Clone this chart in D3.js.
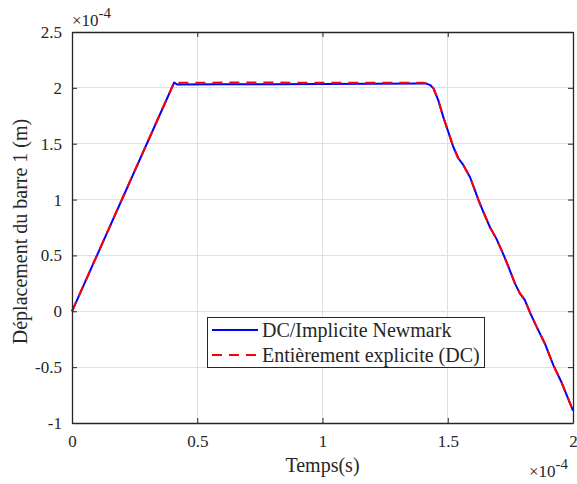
<!DOCTYPE html>
<html>
<head>
<meta charset="utf-8">
<script src="https://cdn.jsdelivr.net/npm/d3@7"></script>
<style>
  html, body { margin: 0; padding: 0; background: #ffffff; }
  svg { display: block; }
  text { font-family: "Liberation Serif", "Times New Roman", serif; fill: #262626; }
</style>
</head>
<body>
<svg id="chart" width="577" height="484"></svg>
<script>
// ---- data (time and displacement in units of 1e-4) ----
const time = [0, 0.408, 0.42, 0.6, 0.8, 1.0, 1.2, 1.4, 1.415, 1.43, 1.443, 1.462, 1.482, 1.502, 1.522, 1.542, 1.562, 1.589, 1.609, 1.622, 1.642, 1.669, 1.695, 1.722, 1.742, 1.768, 1.788, 1.808, 1.828, 1.855, 1.888, 1.921, 1.955, 2.0];
const implicitNewmark = [0, 2.048, 2.03, 2.032, 2.033, 2.035, 2.037, 2.04, 2.038, 2.025, 1.995, 1.89, 1.74, 1.607, 1.473, 1.37, 1.31, 1.2, 1.08, 1.0, 0.89, 0.75, 0.646, 0.51, 0.40, 0.25, 0.16, 0.10, -0.01, -0.14, -0.29, -0.48, -0.64, -0.89];
const fullyExplicit = [0, 2.05, 2.046, 2.047, 2.047, 2.046, 2.046, 2.045, 2.04, 2.026, 1.995, 1.89, 1.74, 1.607, 1.473, 1.37, 1.31, 1.2, 1.08, 1.0, 0.89, 0.75, 0.646, 0.51, 0.40, 0.25, 0.16, 0.10, -0.01, -0.14, -0.29, -0.48, -0.64, -0.89];
const xTicks = [0, 0.5, 1, 1.5, 2];
const yTicks = [-1, -0.5, 0, 0.5, 1, 1.5, 2, 2.5];
const seriesNames = ["DC/Implicite Newmark", "Entièrement explicite (DC)"];
const seriesColors = ["#0000ff", "#ff0000"];

// ---- layout ----
const svg = d3.select("#chart");
const L = 72, R = 573, T = 32, B = 423;
const x = d3.scaleLinear().domain([0, 2]).range([L, R]);
const y = d3.scaleLinear().domain([-1, 2.5]).range([B, T]);
const axisColor = "#262626";
const fmt = d => (d < 0 ? "-" : "") + String(Math.abs(d));
const dash = "10,7";

// grid
const grid = svg.append("g");
grid.selectAll(".gx").data(xTicks.slice(1, -1)).enter().append("line")
  .attr("x1", d => x(d)).attr("x2", d => x(d)).attr("y1", T).attr("y2", B)
  .attr("stroke", "#dfdfdf").attr("stroke-width", 1).attr("shape-rendering", "crispEdges");
grid.selectAll(".gy").data(yTicks.slice(1, -1)).enter().append("line")
  .attr("x1", L).attr("x2", R).attr("y1", d => y(d)).attr("y2", d => y(d))
  .attr("stroke", "#dfdfdf").attr("stroke-width", 1).attr("shape-rendering", "crispEdges");

// lines
const pts = vals => time.map((t, i) => [t, vals[i]]);
const line = d3.line().x(d => x(d[0])).y(d => y(d[1]));
svg.append("path").datum(pts(implicitNewmark)).attr("d", line)
  .attr("fill", "none").attr("stroke", seriesColors[0]).attr("stroke-width", 2).attr("stroke-linejoin", "round");
svg.append("path").datum(pts(fullyExplicit)).attr("d", line)
  .attr("fill", "none").attr("stroke", seriesColors[1]).attr("stroke-width", 2)
  .attr("stroke-dasharray", dash);

// axes (box with inward ticks on all sides)
const axB = d3.axisBottom(x).tickValues(xTicks).tickSizeInner(-5).tickSizeOuter(0).tickPadding(12).tickFormat(fmt);
const axT = d3.axisTop(x).tickValues(xTicks).tickSizeInner(-5).tickSizeOuter(0).tickFormat("");
const axL = d3.axisLeft(y).tickValues(yTicks).tickSizeInner(-5).tickSizeOuter(0).tickPadding(10).tickFormat(fmt);
const axR = d3.axisRight(y).tickValues(yTicks).tickSizeInner(-5).tickSizeOuter(0).tickFormat("");
function styleAxis(g) {
  g.select(".domain").attr("stroke", axisColor).attr("stroke-width", 1.3);
  g.selectAll(".tick line").attr("stroke", axisColor);
  g.selectAll(".tick text").attr("fill", axisColor)
    .style("font-family", '"Liberation Serif", "Times New Roman", serif').style("font-size", "17px");
}
svg.append("g").attr("transform", `translate(0,${B})`).call(axB).call(styleAxis);
svg.append("g").attr("transform", `translate(0,${T})`).call(axT).call(styleAxis);
svg.append("g").attr("transform", `translate(${L},0)`).call(axL).call(styleAxis);
svg.append("g").attr("transform", `translate(${R},0)`).call(axR).call(styleAxis);

// exponent labels
function expLabel(xp, yb) {
  const t = svg.append("text").attr("x", xp).attr("y", yb).style("font-size", "17px");
  t.append("tspan").text("×10");
  t.append("tspan").attr("dy", -8).style("font-size", "15px").text("-4");
}
expLabel(72, 26);
expLabel(529, 477);

// axis titles
svg.append("text").attr("x", (L + R) / 2).attr("y", 472).attr("text-anchor", "middle")
  .style("font-size", "20px").text("Temps(s)");
svg.append("text").attr("transform", `translate(27,${(T + B) / 2 + 4}) rotate(-90)`)
  .attr("text-anchor", "middle").style("font-size", "20px").text("Déplacement du barre 1 (m)");

// legend
const lg = svg.append("g");
lg.append("rect").attr("x", 207.5).attr("y", 317.5).attr("width", 277).attr("height", 50)
  .attr("fill", "#ffffff").attr("stroke", axisColor).attr("stroke-width", 1);
seriesNames.forEach((name, i) => {
  const yy = 330 + i * 25;
  lg.append("line").attr("x1", 212).attr("x2", 258).attr("y1", yy).attr("y2", yy)
    .attr("stroke", seriesColors[i]).attr("stroke-width", 2)
    .attr("stroke-dasharray", i === 1 ? dash : null);
  lg.append("text").attr("x", 262).attr("y", yy + 6.5).style("font-size", "20px").text(name);
});
</script>
</body>
</html>
